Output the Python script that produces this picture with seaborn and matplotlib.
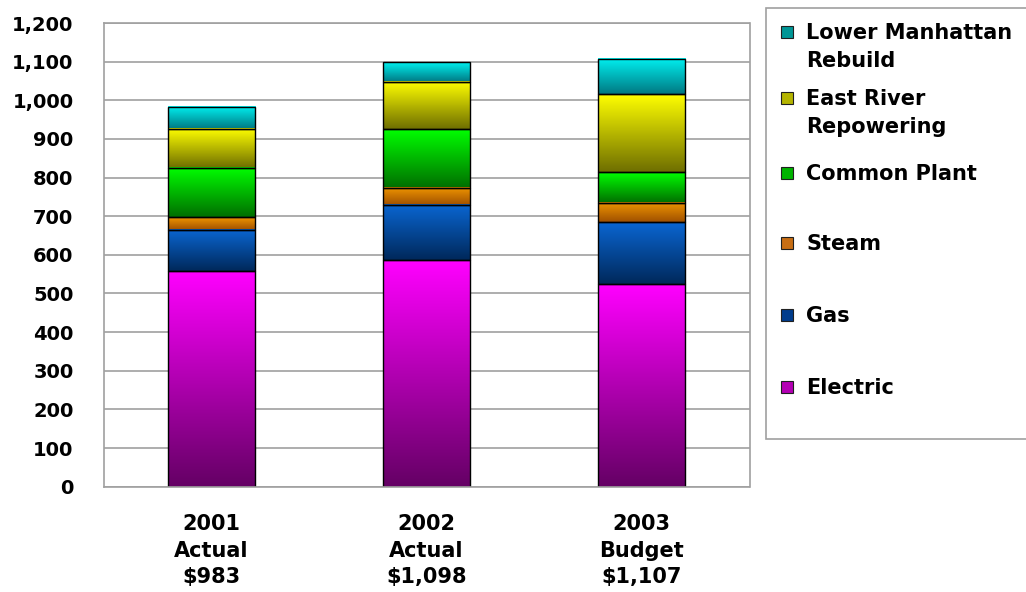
import numpy as np
import matplotlib
matplotlib.use("Agg")
import matplotlib.pyplot as plt
from matplotlib.patches import Rectangle
from matplotlib.ticker import FixedLocator, FuncFormatter
import seaborn as sns

# Capital expenditures by business, $ millions
years = ["2001", "2002", "2003"]
status = ["Actual", "Actual", "Budget"]
series = ["Electric", "Gas", "Steam", "Common Plant",
          "East River Repowering", "Lower Manhattan Rebuild"]
electric = [557, 586, 525]
gas = [108, 144, 159]
steam = [32, 44, 51]
common_plant = [127, 152, 79]
east_river = [102, 122, 201]
lower_manhattan = [57, 50, 92]

# gradient colours per series: (top, bottom) and a flat swatch colour
top_colors = ["#ff00ff", "#0a66d2", "#f09600", "#00ff00", "#ffff00", "#00f0f0"]
bottom_colors = ["#640064", "#00285a", "#a05000", "#006e00", "#6e6e00", "#007882"]
swatch_colors = ["#b400b4", "#003c8c", "#c86e14", "#00b400", "#b4b400", "#009696"]

W, H = 1026, 592
sns.set_style("white")
plt.rcParams["font.family"] = ["DejaVu Sans"]
plt.rcParams["font.weight"] = "bold"
plt.rcParams["text.color"] = "black"

fig = plt.figure(figsize=(W / 100, H / 100), dpi=100)
ax = fig.add_axes([103.5 / W, 1 - 486.7 / H, (749.5 - 103.5) / W, (486.7 - 23) / H])

values = np.array([electric, gas, steam, common_plant, east_river, lower_manhattan])
cum = np.cumsum(values, axis=0)
totals = values.sum(axis=0)


def gradient(top, bottom, n=256):
    t = np.linspace(0, 1, n)[:, None]
    c0 = np.array(matplotlib.colors.to_rgb(bottom))
    c1 = np.array(matplotlib.colors.to_rgb(top))
    return (c0 + (c1 - c0) * t)[:, None, :]


# stacked bars: draw cumulative heights, then trim each bar to its own segment
for k in reversed(range(len(values))):
    n_before = len(ax.patches)
    sns.barplot(x=years, y=cum[k], color=swatch_colors[k], width=0.405,
                saturation=1, edgecolor="black", linewidth=1.0, ax=ax, zorder=2)
    bars = ax.patches[n_before:]
    lower = cum[k - 1] if k > 0 else np.zeros(len(years))
    grad = gradient(top_colors[k], bottom_colors[k])
    for bar, b0, b1 in zip(bars, lower, cum[k]):
        bar.set_y(b0)
        bar.set_height(b1 - b0)
        bar.set_facecolor("none")
        x0 = bar.get_x()
        x1 = x0 + bar.get_width()
        ax.imshow(grad, extent=[x0, x1, b0, b1], origin="lower",
                  aspect="auto", interpolation="bilinear", zorder=1.5)

ax.set_xlim(-0.5, 2.5)
ax.set_ylim(0, 1200)
ax.set_xlabel("")
ax.set_ylabel("")

grey = "#a0a0a0"
ax.set_axisbelow(True)
ax.yaxis.grid(True, color=grey, linewidth=1.2)
ax.xaxis.grid(False)
for side in ["left", "right", "bottom", "top"]:
    ax.spines[side].set_visible(True)
    ax.spines[side].set_color(grey)
    ax.spines[side].set_linewidth(1.2)

ax.yaxis.set_major_locator(FixedLocator(np.arange(0, 1201, 100)))
ax.yaxis.set_major_formatter(FuncFormatter(lambda v, p: f"{int(v):,}"))
ax.tick_params(axis="y", direction="out", length=3.6, width=1, color=grey,
               pad=18, labelsize=14, labelcolor="black")

xlabels = [f"{y}\n{s}\n\\${t:,}" for y, s, t in zip(years, status, totals)]
ax.set_xticks(range(len(years)))
ax.set_xticklabels(xlabels, fontsize=15, fontweight="bold", linespacing=1.38,
                   color="black")
ax.set_xticks([-0.5, 0.5, 1.5, 2.5], minor=True)
ax.tick_params(axis="x", which="major", length=0, pad=20, labelcolor="black")
ax.tick_params(axis="x", which="minor", direction="out", length=4.3, width=1, color=grey)
for lab in ax.get_yticklabels():
    lab.set_fontweight("bold")


# legend panel at the right
def fx(x):
    return x / W


def fy(y):
    return 1 - y / H


fig.add_artist(Rectangle((fx(766), fy(439)), fx(1030) - fx(766), fy(8) - fy(439),
                         transform=fig.transFigure, facecolor="white",
                         edgecolor=grey, linewidth=1.2))

legend_rows = [
    (5, [("Lower Manhattan", 32), ("Rebuild", 60)]),
    (4, [("East River", 98), ("Repowering", 126)]),
    (3, [("Common Plant", 173)]),
    (2, [("Steam", 243)]),
    (1, [("Gas", 315)]),
    (0, [("Electric", 387)]),
]
for k, lines in legend_rows:
    cy = lines[0][1]
    fig.add_artist(Rectangle((fx(781), fy(cy + 6)), fx(793) - fx(781), fy(cy - 6) - fy(cy + 6),
                             transform=fig.transFigure, facecolor=swatch_colors[k],
                             edgecolor="#202020", linewidth=0.8))
    for text, y in lines:
        fig.text(fx(806), fy(y + 7), text, fontsize=15, fontweight="bold",
                 ha="left", va="baseline", color="black")

fig.savefig("out.png", dpi=100, facecolor="white")
